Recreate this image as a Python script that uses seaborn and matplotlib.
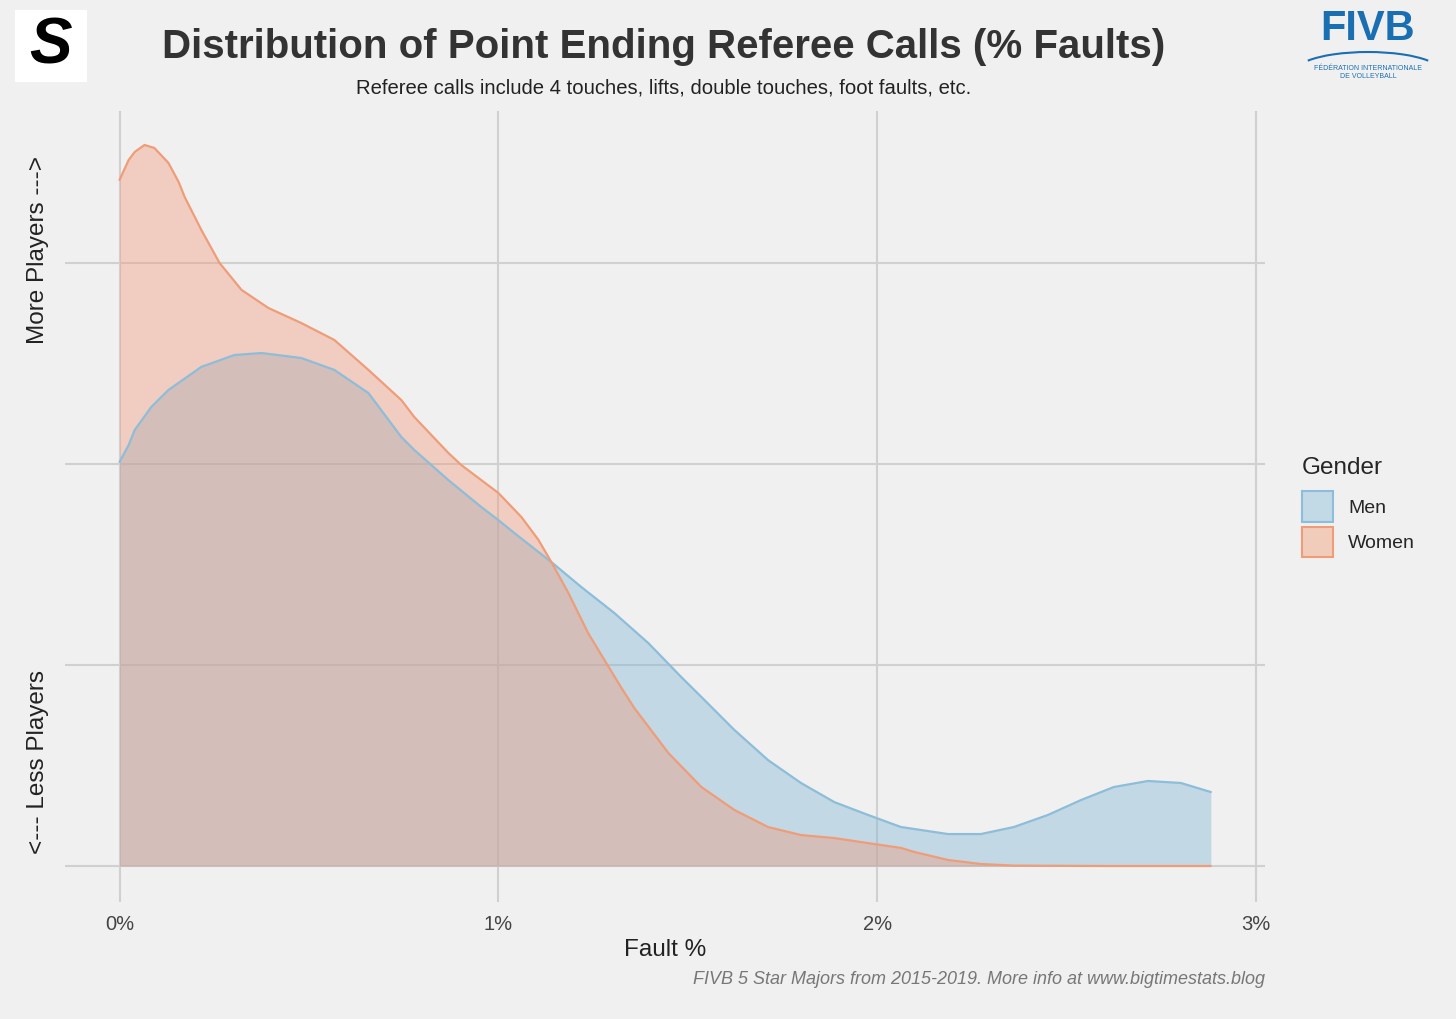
import numpy as np
import pandas as pd
import matplotlib.pyplot as plt
from matplotlib.patches import Patch, Rectangle, Arc
import seaborn as sns

# density curves (x in %, y in gridline units)
men_x = [0.000, 0.024, 0.040, 0.084, 0.129, 0.216, 0.303, 0.375, 0.480, 0.567,
         0.657, 0.744, 0.778, 0.868, 0.955, 1.000, 1.042, 1.140, 1.219, 1.306,
         1.396, 1.483, 1.536, 1.623, 1.712, 1.799, 1.887, 1.976, 2.063, 2.187,
         2.274, 2.361, 2.451, 2.538, 2.625, 2.715, 2.802, 2.881]
men_y = [2.010, 2.094, 2.169, 2.284, 2.368, 2.483, 2.542, 2.552, 2.527, 2.468,
         2.353, 2.134, 2.070, 1.920, 1.786, 1.721, 1.657, 1.512, 1.388, 1.259,
         1.109, 0.940, 0.841, 0.677, 0.527, 0.413, 0.318, 0.254, 0.194, 0.159,
         0.159, 0.194, 0.254, 0.328, 0.393, 0.423, 0.413, 0.368]
women_x = [0.000, 0.024, 0.040, 0.066, 0.092, 0.129, 0.156, 0.172, 0.216, 0.264,
           0.322, 0.393, 0.480, 0.567, 0.657, 0.744, 0.778, 0.868, 0.902, 1.000,
           1.061, 1.106, 1.140, 1.185, 1.237, 1.272, 1.325, 1.359, 1.449, 1.536,
           1.623, 1.712, 1.799, 1.887, 1.976, 2.063, 2.098, 2.187, 2.274, 2.361,
           2.591, 2.881]
women_y = [3.413, 3.512, 3.552, 3.587, 3.572, 3.498, 3.403, 3.328, 3.164, 3.000,
           2.866, 2.776, 2.701, 2.617, 2.468, 2.318, 2.234, 2.055, 1.995, 1.856,
           1.736, 1.622, 1.512, 1.358, 1.159, 1.050, 0.886, 0.786, 0.562, 0.393,
           0.279, 0.194, 0.154, 0.139, 0.114, 0.090, 0.070, 0.030, 0.010, 0.002,
           0.0, 0.0]

genders = ["Men", "Women"]
x_ticks = [0, 1, 2, 3]
x_labels = ["0%", "1%", "2%", "3%"]

fill_cols = {"Men": "#7fb5d5", "Women": "#f0997a"}
line_cols = {"Men": "#8dbdd8", "Women": "#ef9d78"}
bg = "#f0f0f0"

df = pd.concat([
    pd.DataFrame({"fault": men_x, "density": men_y, "Gender": "Men"}),
    pd.DataFrame({"fault": women_x, "density": women_y, "Gender": "Women"}),
])

sns.set_theme(style="whitegrid")
plt.rcParams['font.family'] = ['Liberation Sans', 'DejaVu Sans']

fig = plt.figure(figsize=(14.56, 10.19), dpi=100, facecolor=bg)
ax = fig.add_axes([65 / 1456, 117 / 1019, 1200 / 1456, 791 / 1019])
ax.set_facecolor(bg)

for g in genders:
    sub = df[df["Gender"] == g]
    ax.fill_between(sub["fault"], 0, sub["density"], color=fill_cols[g],
                    alpha=0.4, linewidth=0, zorder=2)
    sns.lineplot(data=sub, x="fault", y="density", color=line_cols[g],
                 linewidth=1.6, ax=ax, zorder=3, legend=False)

ax.set_xlim(-0.144, 3.024)
ax.set_ylim(-0.179, 3.756)
ax.set_xticks(x_ticks)
ax.set_xticklabels(x_labels, fontsize=14.5, color="#444444")
ax.set_yticks([0, 1, 2, 3])
ax.set_yticklabels([])
ax.grid(True, color="#d0d0d0", linewidth=1.5, zorder=0)
ax.set_axisbelow(True)
for s in ax.spines.values():
    s.set_visible(False)
ax.tick_params(axis="x", length=0, pad=9)
ax.tick_params(axis="y", length=0)
ax.set_xlabel("Fault %", fontsize=17.5, color="#222222", labelpad=4)
ax.set_ylabel("")

# y axis hints
fig.text(38 / 1456, 1 - 250 / 1019, "More Players --->", rotation=90,
         ha="center", va="center", fontsize=17.5, color="#222222")
fig.text(38 / 1456, 1 - 762 / 1019, "<--- Less Players", rotation=90,
         ha="center", va="center", fontsize=17.5, color="#222222")

# titles
fig.text(664 / 1456, 1 - 47 / 1019,
         "Distribution of Point Ending Referee Calls (% Faults)",
         ha="center", va="center", fontsize=29, fontweight="bold", color="#333333")
fig.text(664 / 1456, 1 - 88 / 1019,
         "Referee calls include 4 touches, lifts, double touches, foot faults, etc.",
         ha="center", va="center", fontsize=14.6, color="#222222")
fig.text(1265 / 1456, 1 - 980 / 1019,
         "FIVB 5 Star Majors from 2015-2019. More info at www.bigtimestats.blog",
         ha="right", va="center", fontsize=13.0, style="italic", color="#777777")

# legend
handles = [Patch(facecolor=(0.76, 0.85, 0.90), edgecolor=line_cols["Men"], linewidth=1.5, label="Men"),
           Patch(facecolor=(0.95, 0.80, 0.73), edgecolor=line_cols["Women"], linewidth=1.5, label="Women")]
leg = fig.legend(handles=handles, title="Gender", loc="upper left",
                 bbox_to_anchor=(1292 / 1456, 1 - 447 / 1019), frameon=False,
                 fontsize=14, title_fontsize=17.5, handlelength=1.6,
                 handleheight=2.05, labelspacing=0.25, handletextpad=0.8,
                 borderpad=0)
leg._legend_box.align = "left"
leg._legend_box.sep = 9

# left logo
fig.patches.append(Rectangle((15 / 1456, 1 - 82 / 1019), 72 / 1456, 72 / 1019,
                             transform=fig.transFigure, facecolor="white",
                             edgecolor="none"))
fig.text(51 / 1456, 1 - 47 / 1019, "S", ha="center", va="center", fontsize=46,
         fontweight="bold", style="italic", color="black")

# right logo
fig.text(1368 / 1456, 1 - 29 / 1019, "FIVB", ha="center", va="center",
         fontsize=30, fontweight="bold", color="#1a6fb3")
fig.patches.append(Arc((1368 / 1456, 1 - 72 / 1019), 146 / 1456, 40 / 1019,
                       theta1=15, theta2=165, transform=fig.transFigure,
                       color="#1a6fb3", linewidth=1.5))
fig.text(1368 / 1456, 1 - 68 / 1019, "FÉDÉRATION INTERNATIONALE",
         ha="center", va="center", fontsize=5, color="#1a6fb3")
fig.text(1368 / 1456, 1 - 76 / 1019, "DE VOLLEYBALL",
         ha="center", va="center", fontsize=5, color="#1a6fb3")

fig.savefig("out.png", dpi=100, facecolor=bg)
